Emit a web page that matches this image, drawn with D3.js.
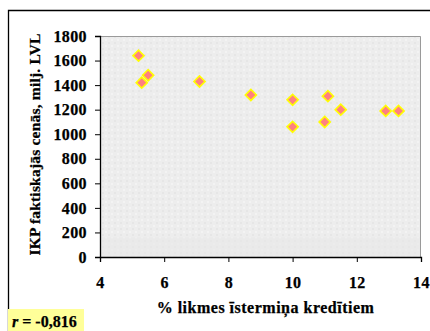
<!DOCTYPE html>
<html><head><meta charset="utf-8">
<script src="https://cdn.jsdelivr.net/npm/d3@7"></script>
<style>body{margin:0;background:#fff}svg{display:block}
svg text{font-family:"Liberation Serif","Times New Roman",Times,"DejaVu Serif",serif !important;font-weight:700 !important;fill:#000;stroke:#000;stroke-width:0.25px}</style>
</head><body>
<svg id="c" width="430" height="331"></svg>
<script>
const rateX = [5.2, 5.3, 5.5, 7.1, 8.7, 10.0, 10.0, 11.0, 11.1, 11.5, 12.9, 13.3];
const gdpY  = [1640, 1420, 1480, 1430, 1320, 1280, 1060, 1100, 1310, 1200, 1190, 1190];
const xTicks = [4, 6, 8, 10, 12, 14];
const yTicks = [0, 200, 400, 600, 800, 1000, 1200, 1400, 1600, 1800];
const xTitle = "% likmes īstermiņa kredītiem";
const yTitle = "IKP faktiskajās cenās, milj. LVL";
const rLabel = "-0,816";

const svg = d3.select("#c");
const L = 100, R = 421, T = 36, B = 257;
const x = d3.scaleLinear().domain([4, 14]).range([L, R]);
const y = d3.scaleLinear().domain([0, 1800]).range([B, T]);

// outer frame
svg.append("path").attr("d", "M8.5,332 V10.5 H431").attr("fill","none").attr("stroke","#000").attr("stroke-width",1.3);

// plot area
const defs = svg.append("defs");
const pat = defs.append("pattern").attr("id","tex").attr("patternUnits","userSpaceOnUse").attr("width",6).attr("height",6);
pat.append("rect").attr("width",6).attr("height",6).attr("fill","#ededed");
pat.append("rect").attr("x",0).attr("y",0).attr("width",2).attr("height",2).attr("fill","#e6e6e6");
pat.append("rect").attr("x",3).attr("y",3).attr("width",2).attr("height",2).attr("fill","#f3f3f3");
svg.append("rect").attr("x",L).attr("y",T).attr("width",R-L).attr("height",B-T).attr("fill","url(#tex)");
svg.append("rect").attr("x",L).attr("y",y(160)).attr("width",R-L).attr("height",B-y(160)).attr("fill","#e8e8e8").attr("opacity",0.6);
svg.append("path").attr("d",`M${L},${T+0.5} H${R-0.5} V${B}`).attr("fill","none").attr("stroke","#9a9a9a").attr("stroke-width",1);

// axes
const xa = svg.append("g").attr("transform",`translate(0,${B})`)
  .call(d3.axisBottom(x).tickValues(xTicks).tickSize(5).tickPadding(15).tickFormat(d3.format("d")));
const ya = svg.append("g").attr("transform",`translate(${L},0)`)
  .call(d3.axisLeft(y).tickValues(yTicks).tickSize(5).tickPadding(8).tickFormat(d3.format("d")));
[xa, ya].forEach(g => {
  g.attr("font-family", null).attr("font-size", null);
  g.select(".domain").attr("stroke","#000").attr("stroke-width",1.3);
  g.selectAll(".tick line").attr("stroke","#000");
  g.selectAll("text").style("font-size","16px").style("letter-spacing","0.4px");
});

// points
svg.append("g").selectAll("path").data(rateX.map((v,i)=>[v,gdpY[i]])).join("path")
  .attr("d", d3.symbol(d3.symbolSquare, 62)())
  .attr("transform", d => `translate(${x(d[0])},${y(d[1])}) rotate(45)`)
  .attr("fill","#ff8080").attr("stroke","#ffff00").attr("stroke-width",1.6);

// titles
svg.append("text").attr("x",(L+R)/2+5).attr("y",313).attr("text-anchor","middle")
  .style("font-size","16px").style("letter-spacing","0.5px").text(xTitle);
svg.append("text").attr("transform",`translate(40,${(T+B)/2-2}) rotate(-90)`).attr("text-anchor","middle")
  .style("font-size","15.5px").style("letter-spacing","0.2px").text(yTitle);

// r label
svg.append("rect").attr("x",8).attr("y",309).attr("width",76).attr("height",22).attr("fill","#ffff99");
const rt = svg.append("text").attr("x",12).attr("y",327).style("font-size","16px");
rt.append("tspan").attr("font-style","italic").text("r");
rt.append("tspan").text(" = " + rLabel);
</script>
</body></html>
